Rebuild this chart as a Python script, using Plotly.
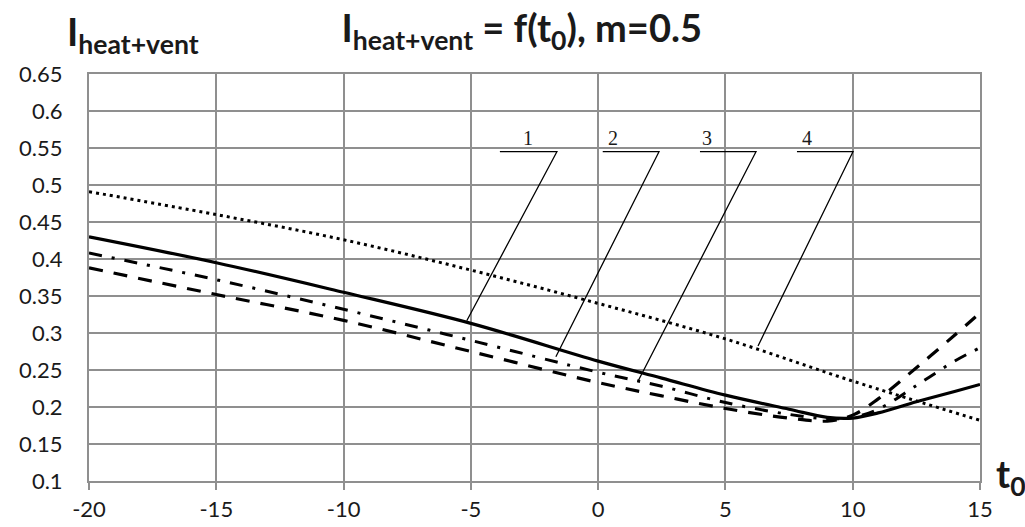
import plotly.graph_objects as go

# Outdoor temperature t0 (deg C) for curves 1-3 and curve 4
t_main = [-20, -15, -10, -5, 0, 2.5, 5, 7.5, 9, 10, 11, 12.5, 14, 15]
t_dotted = [-20, -15, -10, -5, 0, 5, 10, 15]

# I_heat+vent values for each curve
curve_1 = [0.430, 0.395, 0.355, 0.313, 0.262, 0.239, 0.216, 0.197, 0.186, 0.185, 0.192, 0.207, 0.221, 0.2305]
curve_2 = [0.408, 0.372, 0.332, 0.290, 0.247, 0.228, 0.206, 0.190, 0.184, 0.186, 0.197, 0.229, 0.262, 0.280]
curve_3 = [0.388, 0.352, 0.317, 0.275, 0.233, 0.215, 0.198, 0.185, 0.181, 0.189, 0.211, 0.253, 0.297, 0.327]
curve_4 = [0.491, 0.460, 0.426, 0.385, 0.340, 0.292, 0.235, 0.182]

# Leader callouts: label text, label position, shelf ends and pointer tip
leader_text = ["1", "2", "3", "4"]
leader_label_x = [-2.76, 0.58, 4.27, 8.20]
leader_label_y = [0.564, 0.564, 0.564, 0.564]
leader_shelf_x0 = [-3.86, 0.18, 4.00, 7.81]
leader_shelf_x1 = [-1.62, 2.39, 6.20, 10.01]
leader_shelf_y = [0.545, 0.545, 0.545, 0.545]
leader_tip_x = [-5.16, -1.66, 1.56, 6.28]
leader_tip_y = [0.3166, 0.268, 0.2345, 0.2824]

x_ticks = [-20, -15, -10, -5, 0, 5, 10, 15]
y_ticks = [0.1, 0.15, 0.2, 0.25, 0.3, 0.35, 0.4, 0.45, 0.5, 0.55, 0.6, 0.65]

GRID = "#8f8f8f"
TXT = "#1a1a1a"

fig = go.Figure()

curves = [
    (t_main, curve_1, "solid", 3.2),
    (t_main, curve_2, "13px,10px,3px,10px", 3.0),
    (t_main, curve_3, "14px,11px", 3.2),
    (t_dotted, curve_4, "3px,4px", 3.0),
]
for xs, ys, dash, w in curves:
    fig.add_trace(go.Scatter(
        x=xs, y=ys, mode="lines",
        line=dict(color="black", width=w, dash=dash, shape="spline", smoothing=1.0),
        hoverinfo="skip", showlegend=False,
    ))

for i in range(len(leader_text)):
    fig.add_trace(go.Scatter(
        x=[leader_shelf_x0[i], leader_shelf_x1[i], leader_tip_x[i]],
        y=[leader_shelf_y[i], leader_shelf_y[i], leader_tip_y[i]],
        mode="lines", line=dict(color="black", width=1.3),
        hoverinfo="skip", showlegend=False,
    ))
    fig.add_annotation(
        x=leader_label_x[i], y=leader_label_y[i], text=leader_text[i],
        showarrow=False, xanchor="center", yanchor="middle",
        font=dict(family="Liberation Serif", size=20, color=TXT),
    )

fig.add_annotation(
    xref="paper", yref="paper", x=-0.027, y=1.03,
    text="<b>I<sub>heat+vent</sub></b>", showarrow=False,
    xanchor="left", yanchor="bottom",
    font=dict(family="Lato", size=38, color=TXT),
)
fig.add_annotation(
    xref="paper", yref="paper", x=1.016, y=0.012,
    text="<b>t<sub>0</sub></b>", showarrow=False,
    xanchor="left", yanchor="middle",
    font=dict(family="Lato", size=38, color=TXT),
)

fig.update_layout(
    width=1025, height=527,
    margin=dict(l=89, r=45, t=74, b=46, autoexpand=False),
    paper_bgcolor="white", plot_bgcolor="white",
    title=dict(
        text="<b>I<sub>heat+vent</sub> = f(t<sub>0</sub>), m=0.5</b>",
        x=0.509, xref="container", xanchor="center",
        y=0.946, yref="container", yanchor="middle",
        font=dict(family="Lato", size=38, color=TXT),
    ),
    xaxis=dict(
        range=[-20, 15], tickvals=x_ticks, ticktext=[str(v) for v in x_ticks],
        showgrid=True, gridcolor=GRID, gridwidth=2,
        showline=True, linecolor=GRID, linewidth=2, mirror=True,
        ticks="outside", ticklen=7, tickwidth=2, tickcolor=GRID,
        ticklabelstandoff=1, automargin=False,
        tickfont=dict(family="Lato", size=22, color=TXT),
        zeroline=False,
    ),
    yaxis=dict(
        range=[0.1, 0.65], tickvals=y_ticks,
        ticktext=[f"{v:g}" for v in y_ticks],
        showgrid=True, gridcolor=GRID, gridwidth=2,
        showline=True, linecolor=GRID, linewidth=2, mirror=True,
        ticks="", ticklabelstandoff=20, automargin=False,
        tickfont=dict(family="Lato", size=22, color=TXT),
        zeroline=False,
    ),
)

fig.write_html("out.html")
